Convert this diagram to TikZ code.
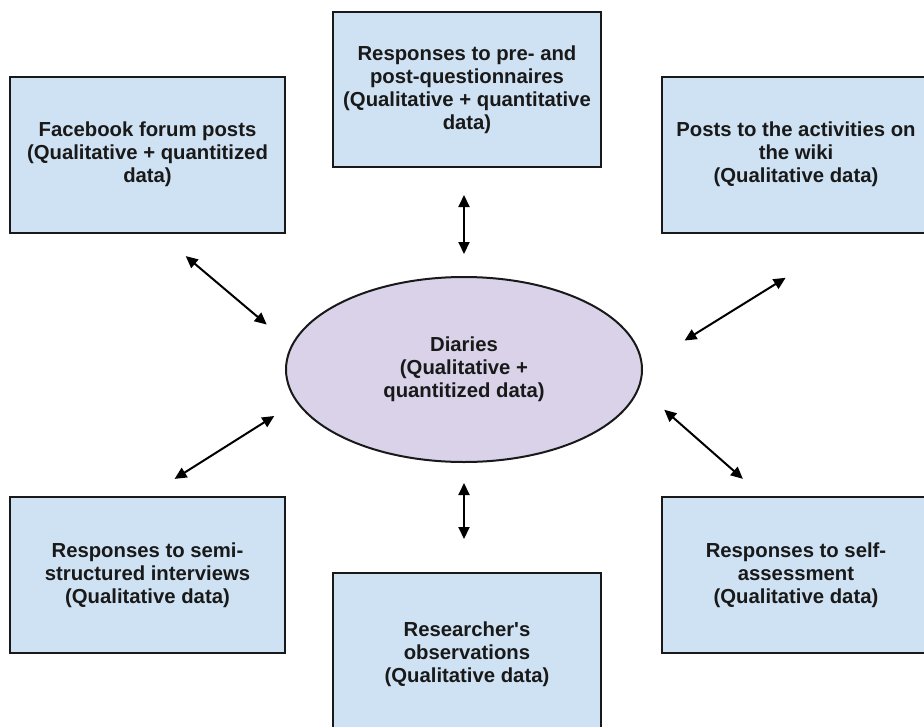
\documentclass[tikz,border=0pt]{standalone}
\usepackage{fontspec}
\setmainfont{Liberation Sans}
\usepackage{tikz}
\usetikzlibrary{shapes.geometric, arrows.meta, positioning, calc}
\usepackage{xcolor}
\definecolor{boxblue}{HTML}{CFE2F3}
\definecolor{diarylilac}{HTML}{D9D2E9}

\begin{document}
\begin{tikzpicture}[
    x=1pt, y=-1pt,
    source/.style = {rectangle, draw=black!90, fill=boxblue, line width=2pt, align=center, font=\fontsize{20.3pt}{23pt}\selectfont\bfseries, text=black!90, minimum width=268pt, minimum height=156pt, inner sep=0pt},
    centre/.style = {ellipse, draw=black!90, fill=diarylilac, line width=2pt, align=center, font=\fontsize{20.3pt}{23pt}\selectfont\bfseries, text=black!90, minimum width=356pt, minimum height=185pt, inner sep=0pt},
    arrow/.style = {draw=black, <->, >={Triangle[length=12pt, width=11pt]}, line width=2pt}
]
\useasboundingbox (0,0) rectangle (924,726);
\clip (0,0) rectangle (924,726);

\node (diary) [centre] at (464,369.5) {Diaries\\(Qualitative +\\quantitized data)};
\node (fb) [source, minimum width=275pt] at (147.5,154.5) {Facebook forum posts\\(Qualitative + quantitized\\data)};
\node (quest) [source, minimum height=155pt] at (467,89.5) {Responses to pre- and\\post-questionnaires\\(Qualitative + quantitative\\data)};
\node (wiki) [source] at (796,154.5) {Posts to the activities on\\the wiki\\(Qualitative data)};
\node (semi) [source, minimum width=275pt] at (147.5,575) {Responses to semi-\\structured interviews\\(Qualitative data)};
\node (obs) [source, minimum height=162pt] at (467,654) {Researcher\textquotesingle s\\observations\\(Qualitative data)};
\node (self) [source] at (796,575) {Responses to self-\\assessment\\(Qualitative data)};

\draw [arrow, shorten <=27pt, shorten >=22pt] (quest.south -| diary.north) -- (diary.north);
\draw [arrow, shorten <=20pt, shorten >=33pt] (diary.south) -- (diary.south |- obs.north);
\draw [arrow, shorten <=35pt, shorten >=32pt] ([xshift=11.5pt]fb.south) -- (diary.172);
\draw [arrow, shorten <=84pt, shorten >=49pt] ([xshift=61pt]wiki.south) -- (diary.1.6);
\draw [arrow, shorten <=26pt, shorten >=32pt] (diary.191.8) -- (semi.north);
\draw [arrow, shorten <=33pt, shorten >=26pt] (diary.354) -- ([xshift=-33.6pt]self.north);
\end{tikzpicture}
\end{document}
